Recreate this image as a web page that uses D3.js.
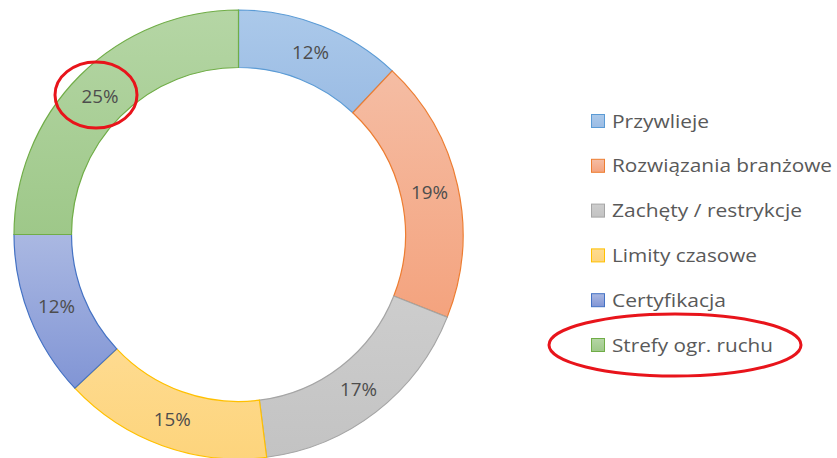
<!DOCTYPE html>
<html><head><meta charset="utf-8">
<script src="https://cdn.jsdelivr.net/npm/d3@7"></script>
<style>body{margin:0;background:#fff}svg{display:block}</style>
</head><body>
<svg id="c" width="837" height="458"></svg>
<script>
const categories = ["Przywlieje","Rozwiązania branżowe","Zachęty / restrykcje","Limity czasowe","Certyfikacja","Strefy ogr. ruchu"];
const values = [12,19,17,15,12,25];
const strokeColors = ["#5b9bd5","#ed7d31","#a5a5a5","#ffc000","#4472c4","#70ad47"];
const topColors = ["#abc9ea","#f5bda4","#cdcdcd","#fedb90","#aab8e2","#b5d6a5"];
const bottomColors = ["#9bbce4","#f4a37e","#c3c3c3","#fdd47c","#8195d5","#9ec889"];
const legendWidths = [97,220,190,145,114,161];

const svg = d3.select("#c");
const cx = 238.5, cy = 234.5, rOuter = 224.5, rInner = 167;
const defs = svg.append("defs");
categories.forEach((c,i)=>{
  const g = defs.append("linearGradient").attr("id","g"+i).attr("x1",0).attr("y1",0).attr("x2",0).attr("y2",1);
  g.append("stop").attr("offset","0%").attr("stop-color",topColors[i]);
  g.append("stop").attr("offset","100%").attr("stop-color",bottomColors[i]);
});
const pie = d3.pie().sort(null).value(d=>d);
const arcs = pie(values);
const arc = d3.arc().innerRadius(rInner).outerRadius(rOuter);
const labelArc = d3.arc().innerRadius((rInner+rOuter)/2).outerRadius((rInner+rOuter)/2);
const g = svg.append("g").attr("transform",`translate(${cx},${cy})`);
g.selectAll("path").data(arcs).join("path")
  .attr("d",arc).attr("fill",(d,i)=>`url(#g${i})`)
  .attr("stroke",(d,i)=>strokeColors[i]).attr("stroke-width",1.2);
g.selectAll("text").data(arcs).join("text")
  .attr("transform",d=>`translate(${labelArc.centroid(d)})`)
  .attr("text-anchor","middle").attr("dy","0.36em")
  .attr("font-family","Open Sans, sans-serif").attr("font-size",19)
  .attr("textLength",37).attr("lengthAdjust","spacingAndGlyphs")
  .attr("fill","#4d4d4d").text(d=>d.value+"%");

const lg = svg.append("g");
const rowY = d3.scalePoint().domain(categories).range([121,345]);
categories.forEach((c,i)=>{
  const y = rowY(c);
  lg.append("rect").attr("x",591.5).attr("y",y-6.5).attr("width",13).attr("height",13)
    .attr("fill",`url(#g${i})`).attr("stroke",strokeColors[i]).attr("stroke-width",1);
  lg.append("text").attr("x",612).attr("y",y).attr("dy","0.36em")
    .attr("font-family","Open Sans, sans-serif").attr("font-size",18.5)
    .attr("fill","#595959").attr("textLength",legendWidths[i]).attr("lengthAdjust","spacingAndGlyphs").text(c);
});

// red annotation ellipses
svg.append("ellipse").attr("cx",96).attr("cy",95).attr("rx",41).attr("ry",33)
  .attr("fill","none").attr("stroke","#e8141b").attr("stroke-width",3);
svg.append("ellipse").attr("cx",675).attr("cy",345).attr("rx",126).attr("ry",31)
  .attr("fill","none").attr("stroke","#e8141b").attr("stroke-width",3);
</script>
</body></html>
